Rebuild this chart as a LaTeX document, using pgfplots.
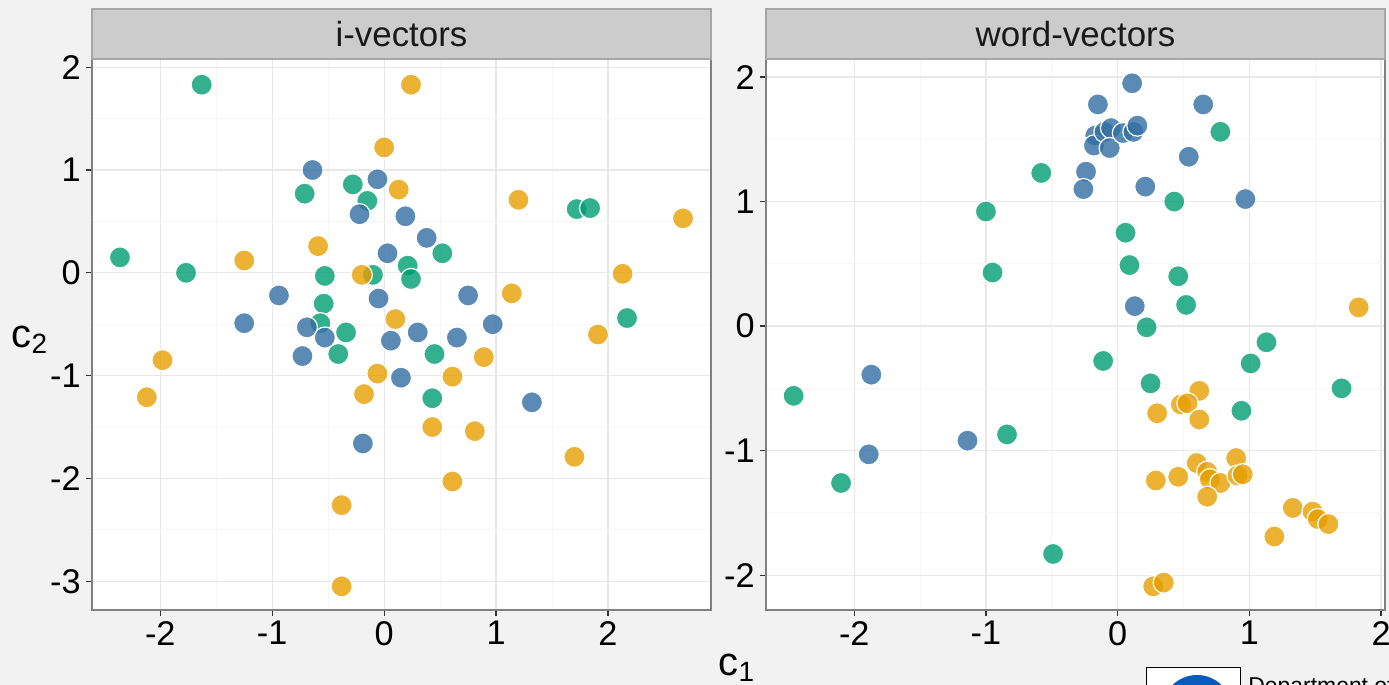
\documentclass[border=0pt]{standalone}
\usepackage{pgfplots}
\pgfplotsset{compat=1.18}
\usepackage{fontspec}
\setmainfont{Liberation Sans}
\definecolor{bg}{HTML}{F2F2F2}
\definecolor{strip}{HTML}{CCCCCC}
\definecolor{cblue}{RGB}{50,111,162}
\definecolor{cgreen}{HTML}{009E73}
\definecolor{corange}{HTML}{E69F00}
\definecolor{logoblue}{HTML}{0A5BBF}

\pgfplotsset{
  panel/.style={
    scale only axis, width=309.5bp, height=275.5bp,
    anchor=south west,
    axis background/.style={fill=white},
    axis line style={draw=black!50, line width=0.7bp},
    grid=both,
    major grid style={draw=black!9, line width=0.6bp},
    minor grid style={draw=black!4, line width=0.4bp},
    minor tick num=1,
    minor tick length=0pt,
    tick align=outside,
    major tick length=3bp,
    tick style={draw=black!80, line width=0.6bp},
    xtick pos=bottom, ytick pos=left,
    /pgf/number format/assume math mode=true,
    ticklabel style={font=\fontsize{17.2}{20}\selectfont, text=black},
    yticklabel style={inner sep=2.5bp},
    xticklabel style={inner sep=2.5bp},
    clip=false,
    only marks,
  },
  dots/.style={mark=*, mark size=5.3bp,
    mark options={draw=white, line width=0.6bp, fill=#1, fill opacity=0.8}},
}

\begin{document}
\begin{tikzpicture}
\useasboundingbox (0bp,0bp) rectangle (694.5bp,342.5bp);
\clip (0bp,0bp) rectangle (694.5bp,342.5bp);
\fill[bg] (0bp,0bp) rectangle (694.5bp,342.5bp);

% ---------------- i-vectors ----------------
\begin{axis}[panel, at={(46bp,37.5bp)},
  xmin=-2.61, xmax=2.92, ymin=-3.28, ymax=2.08,
  xtick={-2,-1,0,1,2}, ytick={-3,-2,-1,0,1,2}]
\addplot+[dots=cgreen] coordinates {
(-1.63,1.83) (-2.36,0.15) (-1.77,0.00) (-0.71,0.77) (-0.28,0.86) (-0.15,0.70)
(-0.53,-0.03) (-0.54,-0.30) (-0.57,-0.49) (-0.34,-0.58) (-0.41,-0.79)
(-0.10,-0.02) (0.21,0.07) (0.24,-0.06) (0.52,0.19) (0.45,-0.79) (0.43,-1.22)
(1.72,0.62) (1.84,0.63) (2.17,-0.44)};
\addplot+[dots=cblue] coordinates {
(-0.64,1.00) (-0.06,0.91) (-0.22,0.57) (0.19,0.55) (0.38,0.34) (0.03,0.19)
(-0.94,-0.22) (-1.25,-0.49) (-0.69,-0.53) (-0.53,-0.63) (-0.73,-0.81)
(-0.05,-0.25) (0.06,-0.66) (0.30,-0.58) (0.15,-1.02) (0.65,-0.63)
(0.75,-0.22) (0.97,-0.50) (1.32,-1.26) (-0.19,-1.66)};
\addplot+[dots=corange] coordinates {
(0.24,1.83) (0.00,1.22) (0.13,0.81) (-0.59,0.26) (-1.25,0.12) (-0.20,-0.02)
(1.20,0.71) (2.67,0.53) (2.13,-0.01) (1.14,-0.20) (0.10,-0.45)
(-1.98,-0.85) (-2.12,-1.21) (-0.06,-0.98) (-0.18,-1.18) (-0.38,-2.26)
(-0.38,-3.05) (0.61,-1.01) (0.89,-0.82) (1.91,-0.60) (0.43,-1.50)
(0.81,-1.54) (1.70,-1.79) (0.61,-2.03)};
\end{axis}
\fill[strip] (46bp,313bp) rectangle (355.5bp,338bp);
\draw[black!35, line width=0.6bp] (46bp,313bp) rectangle (355.5bp,338bp);
\node[font=\fontsize{17.5}{21}\selectfont, text=black!90] at (200.75bp,325.5bp) {i-vectors};

% ---------------- word-vectors ----------------
\begin{axis}[panel, at={(383bp,37.5bp)},
  xmin=-2.67, xmax=2.03, ymin=-2.28, ymax=2.145,
  xtick={-2,-1,0,1,2}, ytick={-2,-1,0,1,2}]
\addplot+[dots=cgreen] coordinates {
(-0.58,1.23) (-1.00,0.92) (-0.95,0.43) (0.78,1.56) (0.43,1.00) (0.06,0.75)
(0.09,0.49) (0.46,0.40) (0.52,0.17) (0.22,-0.01) (1.13,-0.13) (-0.11,-0.28)
(1.01,-0.30) (0.25,-0.46) (1.70,-0.50) (0.94,-0.68) (-0.49,-1.83)
(-2.46,-0.56) (-0.84,-0.87) (-2.10,-1.26)};
\addplot+[dots=cblue] coordinates {
(0.11,1.95) (-0.15,1.78) (0.65,1.78)
(-0.17,1.53) (-0.18,1.45) (-0.10,1.56) (-0.05,1.59) (-0.06,1.43)
(0.04,1.55) (0.12,1.56) (0.15,1.61)
(0.54,1.36) (-0.24,1.24) (-0.26,1.10) (0.21,1.12) (0.97,1.02) (0.13,0.16)
(-1.87,-0.39) (-1.89,-1.03) (-1.14,-0.92)};
\addplot+[dots=corange] coordinates {
(1.83,0.15) (0.62,-0.52) (0.30,-0.70) (0.48,-0.63) (0.53,-0.62) (0.62,-0.75)
(0.60,-1.10) (0.29,-1.24) (0.46,-1.21) (0.68,-1.17) (0.70,-1.23) (0.78,-1.26)
(0.68,-1.37) (0.90,-1.06) (0.91,-1.20) (0.95,-1.19)
(1.33,-1.46) (1.48,-1.49) (1.52,-1.55) (1.60,-1.59) (1.19,-1.69)
(0.27,-2.09) (0.35,-2.06)};
\end{axis}
\fill[strip] (383bp,313bp) rectangle (692.5bp,338bp);
\draw[black!35, line width=0.6bp] (383bp,313bp) rectangle (692.5bp,338bp);
\node[font=\fontsize{17.5}{21}\selectfont, text=black!90] at (537.75bp,325.5bp) {word-vectors};

% axis titles
\node[font=\fontsize{20}{23}\selectfont] at (15bp,172.5bp) {c\textsubscript{2}};
\node[font=\fontsize{20}{23}\selectfont] at (368.5bp,8.5bp) {c\textsubscript{1}};

% logo fragment
\fill[white] (573bp,-5bp) rectangle (620bp,8.5bp);
\draw[black, line width=0.5bp] (573bp,-5bp) rectangle (620bp,8.5bp);
\fill[logoblue] (598.5bp,-12.5bp) circle (17.5bp);
\node[anchor=base west, font=\fontsize{11.5}{13}\selectfont, inner sep=0pt] at (624bp,-4.2bp) {Department of};
\end{tikzpicture}
\end{document}
